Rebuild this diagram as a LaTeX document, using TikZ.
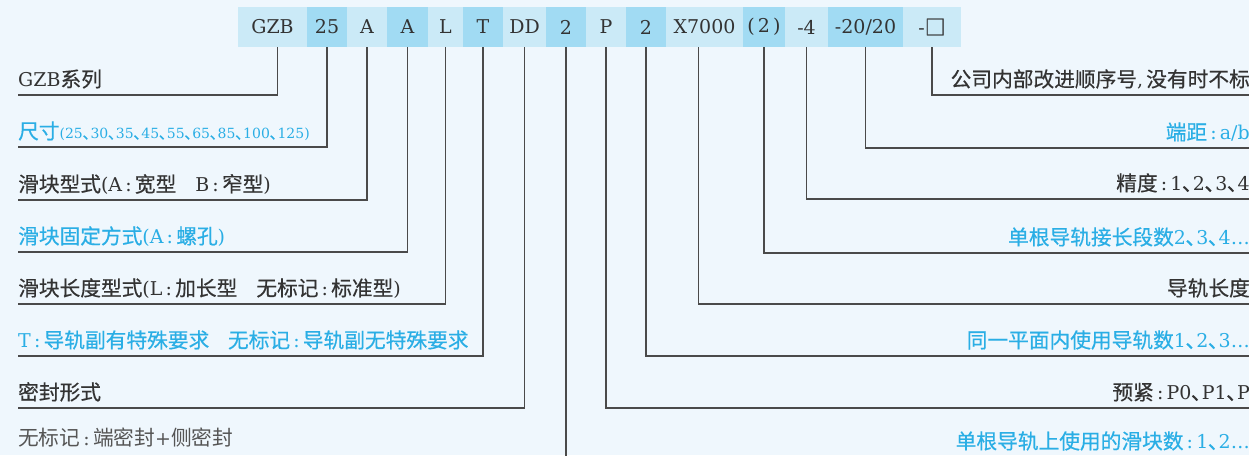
\documentclass[tikz,border=0pt]{standalone}
\usepackage{fontspec}
\setmainfont{DejaVu Serif}
\newfontfamily\cjkmed[Scale=1.09, FakeBold=0.5]{Noto Sans CJK SC}
\newfontfamily\cjklight[Scale=1.09]{Noto Sans CJK SC}
\newcommand\cjkpick{\cjkmed}
\usepackage{tikz}
\usetikzlibrary{positioning}
\definecolor{paper}{HTML}{EFF7FD}
\definecolor{celllite}{HTML}{CBEAF7}
\definecolor{celldeep}{HTML}{A1DBF3}
\definecolor{sky}{HTML}{2AAEE5}
\definecolor{ink}{HTML}{333333}
\definecolor{soft}{HTML}{555555}
\definecolor{wire}{HTML}{4A4A4A}
% switch to the CJK family for Chinese characters
\XeTeXinterchartokenstate=1
\newXeTeXintercharclass\cjkchars
\count255="3000
\loop\XeTeXcharclass\count255=\cjkchars\advance\count255 by 1 \ifnum\count255<"3040 \repeat
\count255="4E00
\loop\XeTeXcharclass\count255=\cjkchars\advance\count255 by 1 \ifnum\count255<"A000 \repeat
\count255="FF00
\loop\XeTeXcharclass\count255=\cjkchars\advance\count255 by 1 \ifnum\count255<"FFF0 \repeat
\XeTeXcharclass"25A1=\cjkchars
\XeTeXinterchartoks 0 \cjkchars = {\cjkpick}
\XeTeXinterchartoks 4095 \cjkchars = {\cjkpick}
\XeTeXinterchartoks \cjkchars 0 = {\rmfamily}
\XeTeXinterchartoks \cjkchars 4095 = {\rmfamily}
\newcommand\ck{\,:\,}
\begin{document}
\begin{tikzpicture}[x=1pt,y=-1pt,
    cell/.style={minimum height=40, inner sep=0, text=ink, font=\fontsize{19}{22}\selectfont},
    lite/.style={cell, fill=celllite},
    deep/.style={cell, fill=celldeep},
    lab/.style={inner xsep=0, inner ysep=0, text height=15, text depth=8, font=\fontsize{19}{22}\selectfont},
    dark/.style={lab, text=ink},
    blue/.style={lab, text=sky},
    conn/.style={draw=wire, line width=1.2pt}]
    \useasboundingbox (0,0) rectangle (1249,455);
    \fill[paper] (0,0) rectangle (1249,455);
    \clip (0,0) rectangle (1249,455);
    % code strip
    \foreach \n/\a/\b/\t/\s in {gzb/238/307/GZB/lite, sz/307/347/25/deep, ta/347/387/A/lite, fa/387/428/A/deep,
        lg/428/463/L/lite, tt/463/503/T/deep, dd/503/546/DD/lite, nb/546/586/2/deep, pp/586/626/P/lite,
        nr/626/666/2/deep, xl/666/743/X7000/lite, sg/743/785/(\,2\,)/deep, ac/785/828/-4/lite,
        ed/828/903/{-20/20}/deep, sq/903/961/-□/lite}
        \node[\s, minimum width={\b-\a}] (\n) at ({(\a+\b)/2},27) {\t};
    % left side
    \node[dark, anchor=south west] (lgzb) at (18,95) {GZB系列};
    \node[blue, anchor=south west] (lsz) at (18,147) {尺寸{\fontsize{14}{16}\selectfont(25､30､35､45､55､65､85､100､125)}};
    \node[dark, anchor=south west] (lta) at (18,200) {滑块型式(A\ck 宽型\quad B\ck 窄型)};
    \node[blue, anchor=south west] (lfa) at (18,252) {滑块固定方式(A\ck 螺孔)};
    \node[dark, anchor=south west] (llg) at (18,304) {滑块长度型式(L\ck 加长型\quad 无标记\ck 标准型)};
    \node[blue, anchor=south west] (ltt) at (18,356) {T\ck 导轨副有特殊要求\enspace\, 无标记\ck 导轨副无特殊要求};
    \node[dark, anchor=south west] (ldd) at (18,408) {密封形式};
    \node[lab, text=soft, anchor=south west, font=\fontsize{19}{22}\selectfont\let\cjkpick\cjklight] (lnone) at (18,454) {无标记\ck 端密封+侧密封};
    % right side
    \node[dark, anchor=south east] (rsq) at (1250,95) {公司内部改进顺序号,\,没有时不标};
    \node[blue, anchor=south east] (red) at (1250,148) {端距\ck a/b};
    \node[dark, anchor=south east] (rac) at (1250,199) {精度\ck 1､2､3､4};
    \node[blue, anchor=south east] (rsg) at (1250,253) {单根导轨接长段数2､3､4…};
    \node[dark, anchor=south east] (rxl) at (1250,304) {导轨长度};
    \node[blue, anchor=south east] (rnr) at (1250,356) {同一平面内使用导轨数1､2､3…};
    \node[dark, anchor=south east] (rpp) at (1250,408) {预紧\ck P0､P1､P};
    \node[blue, anchor=south east] (rnb) at (1250,457) {单根导轨上使用的滑块数\ck 1､2…};
    \draw[conn] ([xshift=5pt]gzb.south) |- (lgzb.south west);
    \foreach \c/\l in {sz/lsz, ta/lta, fa/lfa, lg/llg, tt/ltt, dd/ldd}
        \draw[conn] (\c.south) |- (\l.south west);
    \draw[conn] ([xshift=-6pt]xl.south) |- (rxl.south east);
    \foreach \c/\l in {sq/rsq, ed/red, ac/rac, sg/rsg, nr/rnr, pp/rpp}
        \draw[conn] (\c.south) |- (\l.south east);
    \draw[conn] (nb.south) |- ([yshift=-8pt]rnb.south east);
\end{tikzpicture}
\end{document}
